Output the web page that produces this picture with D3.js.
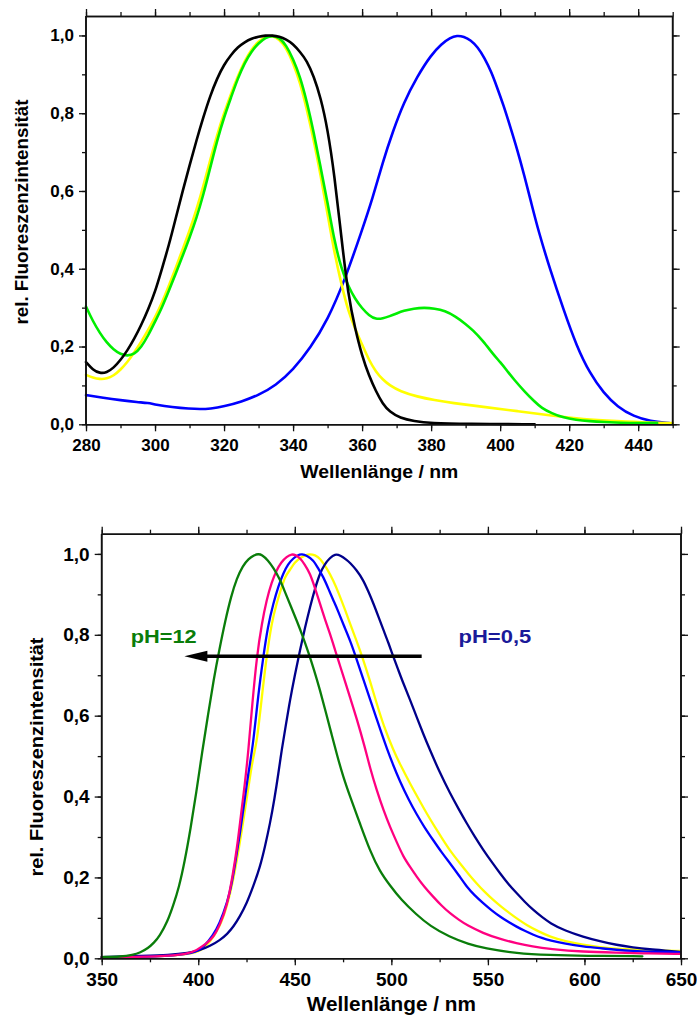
<!DOCTYPE html>
<html>
<head>
<meta charset="utf-8">
<script src="https://cdn.jsdelivr.net/npm/d3@7"></script>
<style>
  html, body { margin: 0; padding: 0; background: #fff; }
  svg { display: block; }
  text { font-family: "Liberation Sans", Arial, sans-serif; font-weight: bold; }
</style>
</head>
<body>
<svg id="chart" width="697" height="1016"></svg>
<script>
// ---------------- DATA ----------------
// Top panel (280–450 nm)
const topXTicks = [280, 300, 320, 340, 360, 380, 400, 420, 440];
const yTicks = [0, 0.2, 0.4, 0.6, 0.8, 1.0];
const topBlue = [[280,.075],[285,.068],[290,.062],[295,.057],[298,.055],[300,.051],[305,.044],[310,.040],[313,.039],[316,.040],[320,.046],[325,.058],[330,.075],[335,.100],[340,.140],[345,.196],[350,.268],[355,.371],[360,.500],[363,.580],[366,.675],[369,.755],[372,.826],[376,.895],[380,.950],[383,.978],[385.5,.994],[387.5,1.0],[389.5,.997],[391.5,.988],[393.5,.970],[395.5,.942],[397.5,.905],[399,.869],[401,.820],[403,.763],[405,.705],[407,.640],[409,.570],[411,.500],[414.5,.397],[418.4,.294],[422.2,.200],[426,.131],[430,.080],[434,.045],[438.7,.020],[443.5,.008],[449,.003]];
const topYellow = [[280,.127],[282,.120],[284,.116],[286,.117],[288,.125],[290,.140],[292,.160],[294,.185],[296,.212],[298,.242],[300,.275],[302,.312],[304,.356],[306,.402],[308,.450],[310,.497],[312,.552],[314,.612],[316,.680],[318,.745],[320,.800],[322,.850],[324,.895],[326,.935],[328,.965],[330,.985],[332,.997],[334,1.0],[336,.990],[338,.968],[340,.930],[342,.880],[344,.810],[346,.730],[348,.640],[350,.540],[352,.440],[354,.360],[356,.290],[358,.245],[360,.205],[362,.165],[364,.135],[366,.115],[368,.100],[371,.085],[376,.071],[381,.062],[386,.055],[395,.045],[405,.034],[415,.022],[424,.013],[434,.008],[443,.004],[450,.003]];
const topGreen = [[280,.303],[282,.265],[284,.235],[286,.210],[288,.192],[290,.180],[292,.176],[294,.180],[296,.198],[298,.228],[300,.264],[302,.300],[304,.343],[306,.388],[308,.433],[310,.480],[312,.530],[314,.590],[316,.660],[318,.730],[320,.790],[322,.840],[324,.890],[326,.930],[328,.960],[330,.980],[332,.995],[334,1.0],[336,.995],[338,.975],[340,.940],[342,.895],[344,.830],[346,.750],[348,.660],[350,.570],[352,.470],[354,.400],[356,.355],[358,.322],[360,.298],[362,.280],[364,.270],[366,.272],[368,.278],[370,.285],[372,.292],[375,.298],[378,.300],[381,.298],[384,.292],[387,.278],[390,.258],[392,.243],[395,.215],[398,.180],[400,.160],[402,.138],[404,.115],[407,.085],[410,.058],[412,.042],[415,.028],[418,.018],[422,.011],[426,.008],[430,.006],[435,.004],[440,.003],[445.5,.003]];
const topBlack = [[280,.160],[282,.140],[284,.131],[286,.133],[288,.145],[290,.165],[292,.190],[294,.220],[296,.255],[298,.295],[300,.340],[302,.400],[304,.460],[306,.530],[308,.600],[310,.665],[312,.730],[314,.790],[316,.845],[318,.890],[320,.925],[322,.950],[324,.970],[326,.983],[328,.992],[330,.997],[332,1.0],[334,1.0],[336,.997],[338,.990],[340,.978],[342,.958],[344,.935],[346,.895],[348,.840],[350,.760],[352,.640],[354,.480],[356,.330],[358,.245],[360,.175],[362,.125],[364,.085],[366,.052],[368,.032],[371,.016],[375,.008],[380,.003],[390,.001],[410,0]];

// Bottom panel (350–650 nm)
const botXTicks = [350, 400, 450, 500, 550, 600, 650];
const botGreen = [[350,.003],[360,.004],[366,.008],[370,.014],[374,.025],[377,.038],[380,.055],[384,.090],[387,.130],[390,.175],[393,.240],[396,.320],[399,.410],[402,.510],[405,.600],[408,.690],[411,.765],[414,.835],[417,.895],[420,.940],[423,.970],[426,.988],[429,.997],[431,1.0],[433,.998],[436,.985],[439,.965],[442,.940],[445,.905],[448,.870],[451,.835],[454,.798],[457,.757],[460,.713],[463,.664],[466,.610],[469,.555],[472,.500],[475,.450],[478.6,.400],[484,.330],[489,.265],[494,.215],[499.3,.180],[505,.145],[513,.108],[520,.080],[530,.053],[540,.035],[548,.025],[565,.012],[582,.008],[600,.006],[630,.005]];
const botPink = [[350,.002],[380,.004],[395,.010],[399,.020],[404,.035],[408,.053],[411,.080],[415,.130],[418,.210],[420,.270],[422,.350],[424.2,.433],[426,.515],[428,.630],[430.3,.746],[433,.830],[435.4,.886],[438,.930],[440.6,.960],[443,.980],[445.8,.993],[448.4,1.0],[450.5,.997],[452.7,.990],[455,.975],[457.9,.952],[460.5,.915],[463,.878],[465.5,.840],[468.2,.803],[471,.760],[473.4,.724],[476,.685],[478.6,.645],[482,.594],[486.4,.520],[489,.470],[492.4,.416],[496,.365],[499.3,.325],[503,.285],[506.2,.251],[510,.224],[513.1,.202],[517,.177],[521.7,.152],[526,.130],[530.4,.111],[535,.095],[539,.082],[547.6,.062],[556,.048],[564.9,.037],[573,.029],[582.2,.023],[599.4,.016],[616.7,.014],[633,.012],[649.5,.011]];
const botBlue = [[350,.002],[380,.004],[395,.010],[400.9,.020],[405,.040],[409.5,.070],[413,.110],[416.4,.160],[419,.230],[421.6,.309],[424,.390],[425.9,.457],[428.5,.531],[431,.650],[433.7,.746],[436,.820],[438.9,.878],[441.5,.920],[444,.952],[446.5,.975],[449.2,.989],[451.5,.997],[453.6,1.0],[456.5,.995],[459.6,.985],[462,.965],[464.8,.943],[467.3,.915],[469.9,.886],[472.5,.858],[475.1,.826],[478.6,.787],[482,.740],[485.5,.690],[489,.640],[492.4,.592],[495,.555],[497.6,.520],[501,.477],[504.5,.437],[509,.392],[513.1,.356],[517,.325],[521.7,.292],[526,.262],[530.4,.235],[535,.205],[539,.177],[543,.156],[547.6,.136],[552,.118],[556.3,.103],[560.5,.090],[564.9,.078],[569,.068],[573.6,.058],[578,.050],[582.2,.044],[590,.036],[599.4,.029],[608,.025],[616.7,.021],[625,.018],[633.9,.016],[649.5,.015]];
const botYellow = [[350,.002],[380,.004],[396,.010],[402,.020],[406,.040],[411,.075],[415,.130],[418,.190],[421,.270],[424,.360],[426.5,.440],[428.5,.500],[430.3,.531],[433,.650],[435.4,.746],[438,.830],[440.6,.878],[443,.915],[445,.945],[447.5,.960],[450,.980],[452.7,.990],[455.5,.997],[457.9,1.0],[460.5,.997],[463,.990],[466.5,.965],[469.9,.935],[473,.900],[476,.862],[478.6,.828],[482,.785],[485.5,.738],[489,.685],[492.4,.630],[496,.575],[501,.515],[505,.475],[509.6,.433],[514,.395],[518.3,.358],[522.5,.325],[526.9,.292],[531,.262],[535.5,.235],[540,.208],[544.2,.185],[548.5,.163],[552.8,.144],[557,.127],[561.4,.111],[565.7,.096],[570.1,.082],[576,.067],[582.2,.053],[590,.042],[599.4,.033],[608,.027],[616.7,.023],[633,.020],[649.5,.018]];
const botNavy = [[350,.003],[370,.006],[385,.008],[395,.013],[401,.020],[406,.030],[411.3,.045],[415,.060],[418.2,.078],[421.5,.103],[425.1,.136],[428.5,.178],[432,.226],[434.5,.275],[437.2,.334],[439.5,.395],[441.5,.457],[443.2,.515],[445.3,.575],[447.5,.638],[450,.700],[452.7,.762],[455.3,.818],[457.9,.869],[460.5,.915],[463,.952],[465.5,.975],[468.2,.990],[470.8,1.0],[473.5,.997],[476.9,.985],[478.6,.978],[482,.960],[485.5,.935],[488,.908],[490.7,.878],[493.3,.845],[495.9,.812],[498.5,.780],[501,.746],[503.6,.713],[506.2,.680],[509.6,.640],[513.1,.597],[516.5,.555],[520,.515],[525,.460],[530.4,.408],[535,.368],[539,.334],[543.3,.300],[547.6,.268],[552,.238],[556.3,.210],[560.5,.184],[564.9,.161],[569,.140],[573.6,.119],[578,.102],[582.2,.087],[590,.068],[599.4,.053],[608,.042],[616.7,.033],[625,.027],[633.9,.022],[642,.019],[649.5,.016]];

// Annotations (bottom panel, data units)
const arrowFrom = [515.7, 0.747];
const arrowTo = [392.8, 0.747];
const labelHigh = {text: "pH=12", x: 365, y: 0.78};
const labelLow = {text: "pH=0,5", x: 534.8, y: 0.78};

// ---------------- DRAW ----------------
const svg = d3.select("#chart");
const fmt = d => d3.format(".1f")(d).replace(".", ",");
const FONT = "Liberation Sans, Arial, sans-serif";

function panel(cfg) {
  const x = d3.scaleLinear().domain(cfg.xDomain).range([cfg.left, cfg.right]);
  const y = d3.scaleLinear().domain([0, 1.05]).range([cfg.bottom, cfg.top]);
  const g = svg.append("g");

  const minorX = d3.range(cfg.xDomain[0], cfg.xDomain[1] + 0.001, cfg.xMinor);
  const minorY = d3.range(0, 1.0001, 0.1);

  // curves
  const line = d3.line().x(d => x(d[0])).y(d => y(d[1])).curve(d3.curveBasis);
  cfg.series.forEach(s => {
    g.append("path").datum(s.data)
      .attr("d", line).attr("fill", "none")
      .attr("stroke", s.color).attr("stroke-width", s.width || 2.6)
      .attr("stroke-linejoin", "round").attr("stroke-linecap", "round");
  });

  const styleAxis = sel => {
    sel.selectAll("path.domain").attr("stroke", "#111").attr("stroke-width", 1.6);
    sel.selectAll("line").attr("stroke", "#111").attr("stroke-width", 1.3);
  };

  // bottom axis (labels)
  const gb = g.append("g").attr("transform", `translate(0,${cfg.bottom})`)
    .call(d3.axisBottom(x).tickValues(minorX).tickSize(4).tickFormat("").tickSizeOuter(0));
  styleAxis(gb);
  const gb2 = g.append("g").attr("transform", `translate(0,${cfg.bottom})`)
    .call(d3.axisBottom(x).tickValues(cfg.xTicks).tickSize(7).tickPadding(cfg.xPad).tickSizeOuter(0).tickFormat(d3.format("d")));
  styleAxis(gb2);
  gb2.attr("font-size", cfg.tickFs).attr("font-family", FONT);
  gb2.selectAll("text").attr("font-size", cfg.tickFs).attr("font-family", FONT).attr("font-weight", "bold").attr("fill", "#000");

  // top axis
  const gt = g.append("g").attr("transform", `translate(0,${cfg.top})`)
    .call(d3.axisTop(x).tickValues(minorX).tickSize(4).tickFormat("").tickSizeOuter(0));
  styleAxis(gt);
  const gt2 = g.append("g").attr("transform", `translate(0,${cfg.top})`)
    .call(d3.axisTop(x).tickValues(cfg.xTicks).tickSize(7).tickFormat("").tickSizeOuter(0));
  styleAxis(gt2);

  // left axis
  const gl = g.append("g").attr("transform", `translate(${cfg.left},0)`)
    .call(d3.axisLeft(y).tickValues(minorY).tickSize(4).tickFormat("").tickSizeOuter(0));
  styleAxis(gl);
  gl.select("path.domain").attr("d", `M-0,${cfg.bottom}V${cfg.top}`);
  const gl2 = g.append("g").attr("transform", `translate(${cfg.left},0)`)
    .call(d3.axisLeft(y).tickValues(yTicks).tickSize(7).tickPadding(5).tickFormat(fmt).tickSizeOuter(0));
  styleAxis(gl2);
  gl2.attr("font-size", cfg.tickFs).attr("font-family", FONT);
  gl2.select("path.domain").attr("d", `M-0,${cfg.bottom}V${cfg.top}`);
  gl2.selectAll("text").attr("font-size", cfg.tickFs).attr("font-family", FONT).attr("font-weight", "bold").attr("fill", "#000");

  // right axis
  const gr = g.append("g").attr("transform", `translate(${cfg.right},0)`)
    .call(d3.axisRight(y).tickValues(minorY).tickSize(4).tickFormat("").tickSizeOuter(0));
  styleAxis(gr);
  gr.select("path.domain").attr("d", `M0,${cfg.bottom}V${cfg.top}`);
  const gr2 = g.append("g").attr("transform", `translate(${cfg.right},0)`)
    .call(d3.axisRight(y).tickValues(yTicks).tickSize(7).tickFormat("").tickSizeOuter(0));
  styleAxis(gr2);
  gr2.select("path.domain").attr("d", `M0,${cfg.bottom}V${cfg.top}`);

  // titles
  g.append("text").attr("x", (cfg.left + cfg.right) / 2).attr("y", cfg.bottom + cfg.xTitleDy)
    .attr("text-anchor", "middle").attr("font-size", cfg.titleFs)
    .attr("textLength", cfg.xTitleLen).attr("lengthAdjust", "spacingAndGlyphs")
    .text("Wellenlänge / nm");
  g.append("text").attr("transform", `translate(${cfg.yTitleX},${cfg.yTitleY}) rotate(-90)`)
    .attr("text-anchor", "middle").attr("font-size", cfg.yTitleFs)
    .attr("textLength", cfg.yTitleLen).attr("lengthAdjust", "spacingAndGlyphs")
    .text("rel. Fluoreszenzintensität");

  return {x, y, g};
}

// Top panel
panel({
  xDomain: [280, 450], xTicks: topXTicks, xMinor: 10,
  left: 86, right: 672.7, top: 16, bottom: 424.3,
  tickFs: 17, xPad: 7.5, titleFs: 19, xTitleDy: 54,
  xTitleLen: 158, yTitleX: 28, yTitleY: 212, yTitleLen: 225, yTitleFs: 18,
  series: [
    {data: topBlue, color: "#0000ff"},
    {data: topYellow, color: "#ffff00"},
    {data: topGreen, color: "#00ee00"},
    {data: topBlack, color: "#000000"}
  ]
});

// Bottom panel
const bp = panel({
  xDomain: [350, 650], xTicks: botXTicks, xMinor: 25,
  left: 101.7, right: 681, top: 533.7, bottom: 958.3,
  tickFs: 19, xPad: 7.5, titleFs: 20, xTitleDy: 53,
  xTitleLen: 169, yTitleX: 43, yTitleY: 757, yTitleLen: 239, yTitleFs: 19,
  series: [
    {data: botYellow, color: "#ffff00", width: 2.3},
    {data: botNavy, color: "#00008b", width: 2.3},
    {data: botBlue, color: "#0000ff", width: 2.3},
    {data: botPink, color: "#ff0080", width: 2.3},
    {data: botGreen, color: "#0a7d0a", width: 2.3}
  ]
});

// arrow
const ax1 = bp.x(arrowFrom[0]), ay = bp.y(arrowFrom[1]), ax2 = bp.x(arrowTo[0]);
bp.g.append("line").attr("x1", ax1).attr("x2", ax2 + 20).attr("y1", ay).attr("y2", ay)
  .attr("stroke", "#000").attr("stroke-width", 3.5);
bp.g.append("path")
  .attr("d", `M${ax2},${ay} L${ax2 + 23},${ay - 5.5} L${ax2 + 23},${ay + 5.5} Z`)
  .attr("fill", "#000");

bp.g.append("text").attr("x", bp.x(labelHigh.x)).attr("y", bp.y(labelHigh.y))
  .attr("font-size", 19).attr("fill", "#0a7d0a")
  .attr("textLength", 66).attr("lengthAdjust", "spacingAndGlyphs")
  .text(labelHigh.text);
bp.g.append("text").attr("x", bp.x(labelLow.x)).attr("y", bp.y(labelLow.y))
  .attr("font-size", 19).attr("fill", "#1a1a99")
  .attr("textLength", 72.7).attr("lengthAdjust", "spacingAndGlyphs")
  .text(labelLow.text);
</script>
</body>
</html>
